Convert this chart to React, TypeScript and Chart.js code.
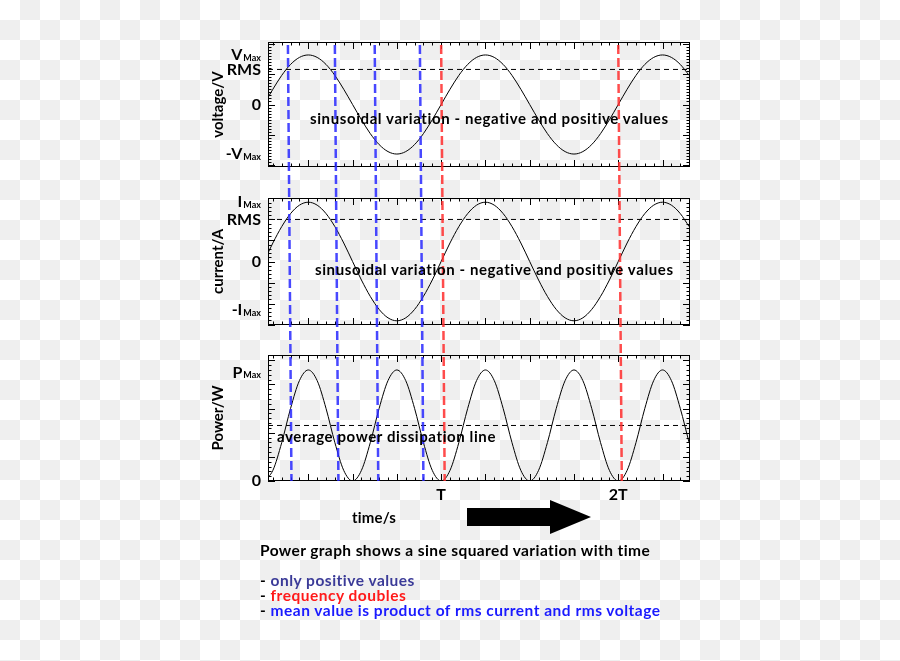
import React, { useEffect, useRef } from 'react';
import { Chart, registerables } from 'chart.js';

Chart.register(...registerables);

// ---------------- DATA ----------------
const timesMs = [
  0, 1, 2, 3, 4, 5, 6, 7, 8, 9, 10, 11, 12, 13, 14, 15, 16, 17, 18, 19,
  20, 21, 22, 23, 24, 25, 26, 27, 28, 29, 30, 31, 32, 33, 34, 35, 36, 37, 38, 39,
  40, 41, 42, 43, 44, 45, 46, 47, 48,
];
const voltageV = [
  0, 100, 191, 263, 309, 325, 309, 263, 191, 100,
  0, -100, -191, -263, -309, -325, -309, -263, -191, -100,
  0, 100, 191, 263, 309, 325, 309, 263, 191, 100,
  0, -100, -191, -263, -309, -325, -309, -263, -191, -100,
  0, 100, 191, 263, 309, 325, 309, 263, 191,
];
const currentA = [
  0, 0.44, 0.83, 1.14, 1.34, 1.41, 1.34, 1.14, 0.83, 0.44,
  0, -0.44, -0.83, -1.14, -1.34, -1.41, -1.34, -1.14, -0.83, -0.44,
  0, 0.44, 0.83, 1.14, 1.34, 1.41, 1.34, 1.14, 0.83, 0.44,
  0, -0.44, -0.83, -1.14, -1.34, -1.41, -1.34, -1.14, -0.83, -0.44,
  0, 0.44, 0.83, 1.14, 1.34, 1.41, 1.34, 1.14, 0.83,
];
const powerW = [
  0, 44, 159, 301, 416, 460, 416, 301, 159, 44,
  0, 44, 159, 301, 416, 460, 416, 301, 159, 44,
  0, 44, 159, 301, 416, 460, 416, 301, 159, 44,
  0, 44, 159, 301, 416, 460, 416, 301, 159, 44,
  0, 44, 159, 301, 416, 460, 416, 301, 159,
];
const voltageRms = 230;
const currentRms = 1.0;
const powerAverage = 230;

const blueMarkerMs = [2.7, 8.0, 12.5, 17.6];
const redMarkerMs = [20, 40];
const markerDriftMs = 0.4;

const xTickValues = [20, 40];
const xTickLabels = ['T', '2T'];

const vLabelValues = [325, 230, 0, -325];
const vLabelMain = ['V', 'RMS', '0', '-V'];
const vLabelSub = ['Max', '', '', 'Max'];

const iLabelValues = [1.41, 1.0, 0, -1.15];
const iLabelMain = ['I', 'RMS', '0', '-I'];
const iLabelSub = ['Max', '', '', 'Max'];

const pLabelValues = [450, 0];
const pLabelMain = ['P', '0'];
const pLabelSub = ['Max', ''];

// ---------------- STYLE / LAYOUT ----------------
const FONT = 'Lato, "DejaVu Sans", sans-serif';
const X_MIN = 0.45;
const X_MAX = 48.1;
const MARKER_TOP = 45;
const MARKER_BOTTOM = 481;

function drawDeco(chart: any) {
  const o = chart.options.plugins.panelDeco;
  const ctx = chart.ctx as CanvasRenderingContext2D;
  const area = chart.chartArea;
  const xs = chart.scales.x;
  const ys = chart.scales.y;
  ctx.save();
  // frame
  ctx.strokeStyle = '#000';
  ctx.lineWidth = 1;
  ctx.setLineDash([]);
  ctx.strokeRect(area.left + 0.5, area.top + 0.5, area.right - area.left - 1, area.bottom - area.top - 1);
  // y ticks
  ctx.beginPath();
  const kyMin = Math.ceil(ys.min / o.yMinor - 1e-9);
  const kyMax = Math.floor(ys.max / o.yMinor + 1e-9);
  for (let k = kyMin; k <= kyMax; k++) {
    const v = k * o.yMinor;
    const r = v / o.yMajor;
    const major = Math.abs(r - Math.round(r)) < 1e-6;
    const len = major ? 7 : 3.5;
    const y = Math.round(ys.getPixelForValue(v)) + 0.5;
    ctx.moveTo(area.left, y);
    ctx.lineTo(area.left + len, y);
    ctx.moveTo(area.right, y);
    ctx.lineTo(area.right - len, y);
  }
  // x ticks
  const kxMin = Math.ceil(xs.min / o.xMinor - 1e-9);
  const kxMax = Math.floor(xs.max / o.xMinor + 1e-9);
  for (let k = kxMin; k <= kxMax; k++) {
    const v = k * o.xMinor;
    const r = v / o.xMajor;
    const major = Math.abs(r - Math.round(r)) < 1e-6;
    const len = major ? 7 : 3.5;
    const x = Math.round(xs.getPixelForValue(v)) + 0.5;
    ctx.moveTo(x, area.top);
    ctx.lineTo(x, area.top + len);
    ctx.moveTo(x, area.bottom);
    ctx.lineTo(x, area.bottom - len);
  }
  ctx.stroke();

  // vertical markers
  const h = chart.height;
  const localStart = Math.max(0, MARKER_TOP - o.pageTop);
  const localEnd = Math.min(h, MARKER_BOTTOM - o.pageTop);
  const span = MARKER_BOTTOM - MARKER_TOP;
  const drawMarker = (t0: number, color: string) => {
    const g0 = o.pageTop + localStart;
    const g1 = o.pageTop + localEnd;
    const x0 = xs.getPixelForValue(t0 + (markerDriftMs * (g0 - MARKER_TOP)) / span);
    const x1 = xs.getPixelForValue(t0 + (markerDriftMs * (g1 - MARKER_TOP)) / span);
    ctx.beginPath();
    ctx.strokeStyle = color;
    ctx.lineWidth = 2.5;
    ctx.setLineDash([9, 4]);
    ctx.lineDashOffset = g0 - MARKER_TOP;
    ctx.moveTo(x0, localStart);
    ctx.lineTo(x1, localEnd);
    ctx.stroke();
  };
  blueMarkerMs.forEach((t) => drawMarker(t, 'rgba(40,40,255,0.85)'));
  redMarkerMs.forEach((t) => drawMarker(t, 'rgba(255,45,45,0.85)'));
  ctx.setLineDash([]);

  // y labels with subscripts
  ctx.fillStyle = '#000';
  ctx.textBaseline = 'middle';
  ctx.textAlign = 'right';
  o.labelValues.forEach((v: number, i: number) => {
    const y = ys.getPixelForValue(v);
    let x = area.left - 7;
    const sub = o.labelSub[i];
    if (sub) {
      ctx.font = `bold 9px ${FONT}`;
      ctx.fillText(sub, x, y + 3);
      x -= ctx.measureText(sub).width + 1;
    }
    ctx.font = `bold 16px ${FONT}`;
    ctx.fillText(o.labelMain[i], x, y);
  });
  ctx.restore();
}

const panelDecoPlugin = {
  id: 'panelDeco',
  afterDatasetsDraw(chart: any) {
    drawDeco(chart);
  },
};

type PanelProps = {
  pageTop: number;
  height: number;
  padTop: number;
  padBottom: number;
  yMin: number;
  yMax: number;
  yMajor: number;
  yMinor: number;
  values: number[];
  refValue: number;
  title: string;
  labelValues: number[];
  labelMain: string[];
  labelSub: string[];
  showX: boolean;
};

function Panel(p: PanelProps) {
  const ref = useRef<HTMLCanvasElement>(null);
  useEffect(() => {
    const xScale: any = p.showX
      ? {
          type: 'linear',
          min: X_MIN,
          max: X_MAX,
          display: true,
          grid: { display: false, drawTicks: false },
          border: { display: false },
          afterBuildTicks: (s: any) => {
            s.ticks = xTickValues.map((v) => ({ value: v }));
          },
          ticks: {
            autoSkip: false,
            maxRotation: 0,
            padding: 4,
            color: '#000',
            font: { family: FONT, size: 16, weight: 'bold' },
            callback: (v: any) => {
              const i = xTickValues.indexOf(Number(v));
              return i >= 0 ? xTickLabels[i] : '';
            },
          },
          afterFit: (s: any) => {
            s.height = 39;
          },
        }
      : { type: 'linear', min: X_MIN, max: X_MAX, display: false };

    const chart = new Chart(ref.current as HTMLCanvasElement, {
      type: 'line',
      data: {
        datasets: [
          {
            data: timesMs.map((t, i) => ({ x: t, y: p.values[i] })),
            borderColor: '#000',
            borderWidth: 1,
            pointRadius: 0,
            cubicInterpolationMode: 'monotone',
            fill: false,
          },
          {
            data: [
              { x: X_MIN, y: p.refValue },
              { x: X_MAX, y: p.refValue },
            ],
            borderColor: '#000',
            borderWidth: 1,
            borderDash: [5, 4],
            pointRadius: 0,
            fill: false,
          },
        ],
      },
      options: {
        animation: false,
        responsive: false,
        maintainAspectRatio: false,
        events: [],
        layout: { padding: { left: 208, right: 210, top: p.padTop, bottom: p.padBottom } },
        plugins: {
          legend: { display: false },
          tooltip: { enabled: false },
          panelDeco: {
            pageTop: p.pageTop,
            yMajor: p.yMajor,
            yMinor: p.yMinor,
            xMajor: 5,
            xMinor: 1,
            labelValues: p.labelValues,
            labelMain: p.labelMain,
            labelSub: p.labelSub,
          },
        } as any,
        scales: {
          x: xScale,
          y: {
            type: 'linear',
            min: p.yMin,
            max: p.yMax,
            position: 'left',
            grid: { display: false, drawTicks: false },
            border: { display: false },
            ticks: { display: false },
            title: {
              display: true,
              text: p.title,
              color: '#000',
              font: { family: FONT, size: 15, weight: 'bold' },
              padding: { top: 1, bottom: 0 },
            },
            afterFit: (s: any) => {
              s.width = 60;
            },
          } as any,
        },
      },
      plugins: [panelDecoPlugin],
    } as any);
    return () => chart.destroy();
  }, []);
  return (
    <canvas
      ref={ref}
      width={900}
      height={p.height}
      style={{ position: 'absolute', left: 0, top: p.pageTop, width: 900, height: p.height }}
    />
  );
}

const txt = (left: number, cy: number, size: number, spacing: number, color = '#000'): React.CSSProperties => ({
  position: 'absolute',
  left,
  top: cy,
  transform: 'translateY(-50%)',
  fontFamily: FONT,
  fontWeight: 'bold',
  fontSize: size,
  letterSpacing: spacing,
  color,
  whiteSpace: 'nowrap',
  lineHeight: 1,
});

export default function App() {
  return (
    <div
      style={{
        position: 'absolute',
        left: 0,
        top: 0,
        width: 900,
        height: 661,
        overflow: 'hidden',
        background: 'repeating-conic-gradient(#efefef 0% 25%, #ffffff 0% 50%) 0 0 / 40px 40px',
      }}
    >
      <Panel
        pageTop={30}
        height={153}
        padTop={12}
        padBottom={16}
        yMin={-410}
        yMax={410}
        yMajor={200}
        yMinor={20}
        values={voltageV}
        refValue={voltageRms}
        title="voltage/V"
        labelValues={vLabelValues}
        labelMain={vLabelMain}
        labelSub={vLabelSub}
        showX={false}
      />
      <Panel
        pageTop={183}
        height={157}
        padTop={15}
        padBottom={15}
        yMin={-1.51}
        yMax={1.51}
        yMajor={0.5}
        yMinor={0.1}
        values={currentA}
        refValue={currentRms}
        title="current/A"
        labelValues={iLabelValues}
        labelMain={iLabelMain}
        labelSub={iLabelSub}
        showX={false}
      />
      <Panel
        pageTop={340}
        height={180}
        padTop={15}
        padBottom={0}
        yMin={0}
        yMax={522}
        yMajor={100}
        yMinor={20}
        values={powerW}
        refValue={powerAverage}
        title="Power/W"
        labelValues={pLabelValues}
        labelMain={pLabelMain}
        labelSub={pLabelSub}
        showX={true}
      />

      <div style={txt(310, 118, 15, 0.6)}>sinusoidal variation - negative and positive values</div>
      <div style={txt(315, 269, 15, 0.6)}>sinusoidal variation - negative and positive values</div>
      <div style={txt(277, 436, 15, 0.6)}>average power dissipation line</div>

      <div style={txt(352, 517, 15, 0.2)}>time/s</div>
      <svg
        width={130}
        height={40}
        style={{ position: 'absolute', left: 465, top: 497 }}
        viewBox="0 0 130 40"
      >
        <polygon points="2,11 85,11 85,3 126,20 85,37 85,29 2,29" fill="#000" />
      </svg>

      <div style={txt(260, 551, 15.5, 0.4)}>Power graph shows a sine squared variation with time</div>
      <div style={txt(260, 581, 15.5, 0.5)}>
        - <span style={{ color: '#3b3b98' }}>only positive values</span>
      </div>
      <div style={txt(260, 596, 15.5, 0.5)}>
        - <span style={{ color: '#ff1a1a' }}>frequency doubles</span>
      </div>
      <div style={txt(260, 611, 15.5, 0.5)}>
        - <span style={{ color: '#1a1aff' }}>mean value is product of rms current and rms voltage</span>
      </div>
    </div>
  );
}
